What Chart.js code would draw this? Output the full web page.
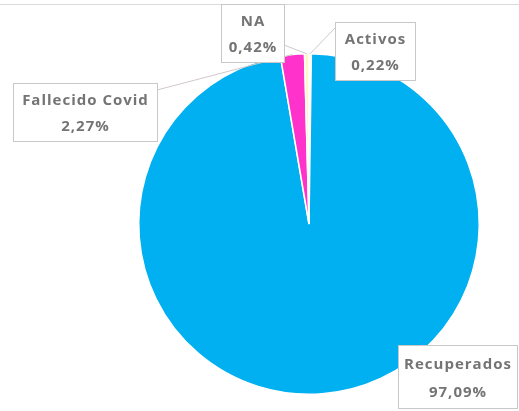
<!DOCTYPE html>
<html>
<head>
<meta charset="utf-8">
<script src="https://cdn.jsdelivr.net/npm/chart.js@4/dist/chart.umd.min.js"></script>
<style>
  html, body { margin: 0; padding: 0; background: #fff; }
  #wrap { width: 519px; height: 411px; }
</style>
</head>
<body>
<div id="wrap"><canvas id="pie" width="519" height="411"></canvas></div>
<script>
// data, in the order Excel draws it clockwise from 12 o'clock
const categories = ["Activos", "Recuperados", "Fallecido Covid", "NA"];
const values = [0.22, 97.09, 2.27, 0.42];
const valueLabels = ["0,22%", "97,09%", "2,27%", "0,42%"];
const colors = ["#E8F4D8", "#00B0F0", "#FF33CC", "#FFF5C8"];

// callout boxes (layout only): x, y, w, h and where the leader line leaves the box
const boxes = [
    {x: 335, y: 22, w: 80, h: 58, lx: 335, ly: 28},
    {x: 398, y: 345, w: 119, h: 63, lx: 430, ly: 345},
    {x: 13, y: 83, w: 144, h: 58, lx: 157, ly: 90},
    {x: 221, y: 4, w: 63, h: 58, lx: 284, ly: 45}
];

const calloutPlugin = {
    id: "callouts",
    afterDraw(chart) {
        const ctx = chart.ctx;
        const meta = chart.getDatasetMeta(0);
        ctx.save();
        // faint frame line at top
        ctx.strokeStyle = "#DADADA";
        ctx.lineWidth = 1;
        ctx.beginPath();
        ctx.moveTo(0, 4.5);
        ctx.lineTo(519, 4.5);
        ctx.stroke();

        meta.data.forEach(function (arc, i) {
            const b = boxes[i];
            const p = arc.getProps(["x", "y", "startAngle", "endAngle", "outerRadius"], true);
            const mid = (p.startAngle + p.endAngle) / 2;
            const ax = p.x + Math.cos(mid) * p.outerRadius;
            const ay = p.y + Math.sin(mid) * p.outerRadius;

            // leader line
            if (i !== 1) {
                ctx.strokeStyle = "#D0C8C8";
                ctx.lineWidth = 1;
                ctx.beginPath();
                ctx.moveTo(b.lx, b.ly);
                ctx.lineTo(ax, ay);
                ctx.stroke();
            }

            // box
            ctx.fillStyle = "#FFFFFF";
            ctx.fillRect(b.x, b.y, b.w, b.h);
            ctx.strokeStyle = "#C8C8C8";
            ctx.strokeRect(b.x + 0.5, b.y + 0.5, b.w, b.h);

            // text
            ctx.fillStyle = "#747474";
            ctx.font = "bold 15px 'Open Sans', sans-serif";
            ctx.letterSpacing = "1px";
            ctx.textAlign = "center";
            ctx.textBaseline = "middle";
            const cx = b.x + b.w / 2 + 0.5;
            ctx.fillText(categories[i], cx, b.y + b.h * 0.31);
            ctx.fillText(valueLabels[i], cx, b.y + b.h * 0.76);
        });
        ctx.restore();
    }
};

const ctx1 = document.getElementById("pie").getContext("2d");
const pieChart = new Chart(ctx1, {
    type: "pie",
    data: {
        labels: categories,
        datasets: [{
            data: values,
            backgroundColor: colors,
            borderColor: "#FFFFFF",
            borderWidth: 1.5
        }]
    },
    options: {
        responsive: false,
        animation: false,
        layout: {
            padding: {left: 138, right: 39, top: 53, bottom: 16}
        },
        plugins: {
            legend: {display: false},
            tooltip: {enabled: false}
        }
    },
    plugins: [calloutPlugin]
});
</script>
</body>
</html>
